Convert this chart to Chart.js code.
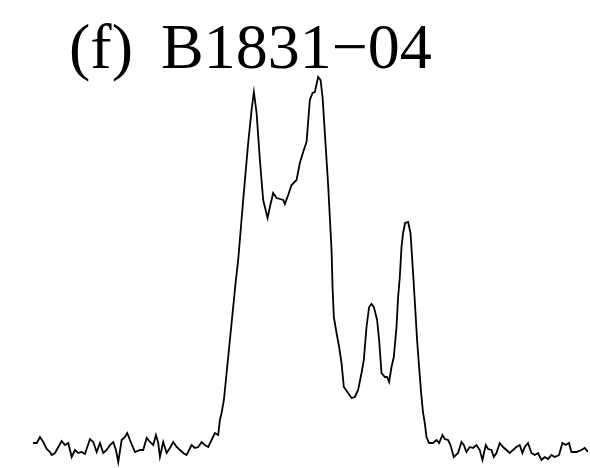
<!DOCTYPE html>
<html>
<head>
<meta charset="utf-8">
<script src="https://cdn.jsdelivr.net/npm/chart.js@4/dist/chart.umd.min.js"></script>
<style>
  html, body { margin: 0; padding: 0; background: #fff; }
  canvas { display: block; }
</style>
</head>
<body>
<canvas id="profileChart" width="590" height="468"></canvas>
<script>
// B1831-04 integrated pulse profile: longitude bin vs. relative flux
const panelLabel = '(f)';
const pulsarName = 'B1831\u221204';

const bins = [
    0, 3.7, 7, 10.3, 13.7, 17, 18.7, 22, 25.3, 28.7,
    32, 35.3, 38.7, 42, 45.3, 48.7, 52, 57, 60.3, 63.7,
    67, 70.3, 73.7, 77, 80.3, 83, 85.3, 88.7, 92, 94.3,
    97, 102, 107, 110.3, 113.7, 117, 120.3, 123, 125.3, 127,
    130.3, 133.7, 137, 140.3, 143.7, 147, 150.3, 153.7, 158.7, 162,
    165.3, 168.7, 172, 175.3, 178.7, 182, 185.3, 187, 188.7, 191,
    193, 195, 197, 199, 201, 203, 205.3,
    210.3, 215.3, 218.7, 221, 223.7, 227, 230.3,
    234.7, 237, 240.3, 243.7, 247, 250.3, 252, 255.3, 258.7, 263.7, 267, 270.3, 273.7,
    277, 279.7, 282, 285.3, 287.7, 289.7, 292, 295.3, 298.7, 299.7, 301, 303.7, 306.3,
    308.7, 311, 315.3, 318.7, 322, 325.3, 328.7, 331, 333.7, 336.3, 338.7, 341,
    344.3, 346.3, 348.7, 352, 354.3, 356.3, 358.7, 361, 363.7, 365.3, 367, 368.7,
    370.3, 372.3, 375.3, 377.7, 380.3, 382.7, 384.3, 386.3, 388.7, 390.3, 392, 393.7,
    396.3, 400.3, 403.7, 406.3, 409.7, 412, 415.3, 417.7, 421, 425.3, 428.7, 431, 433.7, 437,
    440.3, 443.7, 447, 449.7, 453, 455.3, 458.7, 461, 463.7, 467, 470.3, 473.7, 477, 480.3, 483.7,
    487, 489.7, 492, 495.3, 498.7, 502, 505.3, 508.7, 512, 515.3, 518.7, 522, 526.3,
    529.7, 533, 536.3, 538.7, 543.7, 548.7, 552, 555.3
];

const flux = [
    4, 4, 10, 5, -2, -5, -8, -6, 0, 6,
    2, 4, -10, -3, -6, -5, -7, 8, 5, -5,
    4, -6, -3, 2, 5, -3, -15, 7, 10, 14,
    7, -5, -3, -3, 9, 5, 2, 12, 4, -10,
    5, -6, -1, 5, 0, -3, -6, -8, 2, -1,
    0, 5, 2, 0, 7, 14, 12, 27, 34, 47,
    67, 87, 107, 127, 147, 167, 187,
    247, 304, 337, 355, 334, 287, 247,
    229, 240, 254, 249, 248, 247, 243, 252, 262, 267, 284, 295, 305,
    347, 354, 355, 370, 367, 350, 314, 262, 197, 160, 130, 114, 100,
    84, 60, 54, 49, 50, 57, 74, 87, 120, 140, 143, 140,
    127, 107, 74, 70, 70, 65, 80, 90, 120, 150, 170, 200,
    214, 224, 225, 214, 174, 134, 107, 80, 50, 34, 24, 10,
    4, 4, 7, 4, 12, 8, 7, 2, -10, -6, 5, 2, -5, 0,
    -1, 2, -3, -13, 2, -2, -3, -10, -6, 4, 0, -3, -6, -3, 0,
    2, -6, 0, 4, -6, -8, -6, -13, -10, -12, -8, -10, -8,
    4, 2, 4, -5, -5, -3, -1, -5
];

// panel label drawn above the profile in a serif face
const panelTitle = {
    id: 'panelTitle',
    afterDraw(chart) {
        const ctx = chart.ctx;
        ctx.save();
        ctx.fillStyle = '#000';
        ctx.font = '64px "Liberation Serif", "Times New Roman", serif';
        ctx.textBaseline = 'alphabetic';
        ctx.textAlign = 'left';
        ctx.fillText(panelLabel, 69, 68);
        ctx.fillText(pulsarName, 161, 68);
        ctx.restore();
    }
};

const points = bins.map((b, i) => ({ x: b, y: flux[i] }));

new Chart(document.getElementById('profileChart').getContext('2d'), {
    type: 'line',
    data: {
        datasets: [{
            data: points,
            borderColor: '#000',
            borderWidth: 1.8,
            pointRadius: 0,
            tension: 0,
            fill: false
        }]
    },
    options: {
        responsive: false,
        animation: false,
        devicePixelRatio: 1,
        layout: {
            padding: { left: 33, right: 2, top: 67, bottom: 1 }
        },
        scales: {
            x: { type: 'linear', display: false, min: 0, max: 555.3 },
            y: { display: false, min: -20, max: 380 }
        },
        plugins: {
            legend: { display: false },
            tooltip: { enabled: false }
        }
    },
    plugins: [panelTitle]
});
</script>
</body>
</html>
